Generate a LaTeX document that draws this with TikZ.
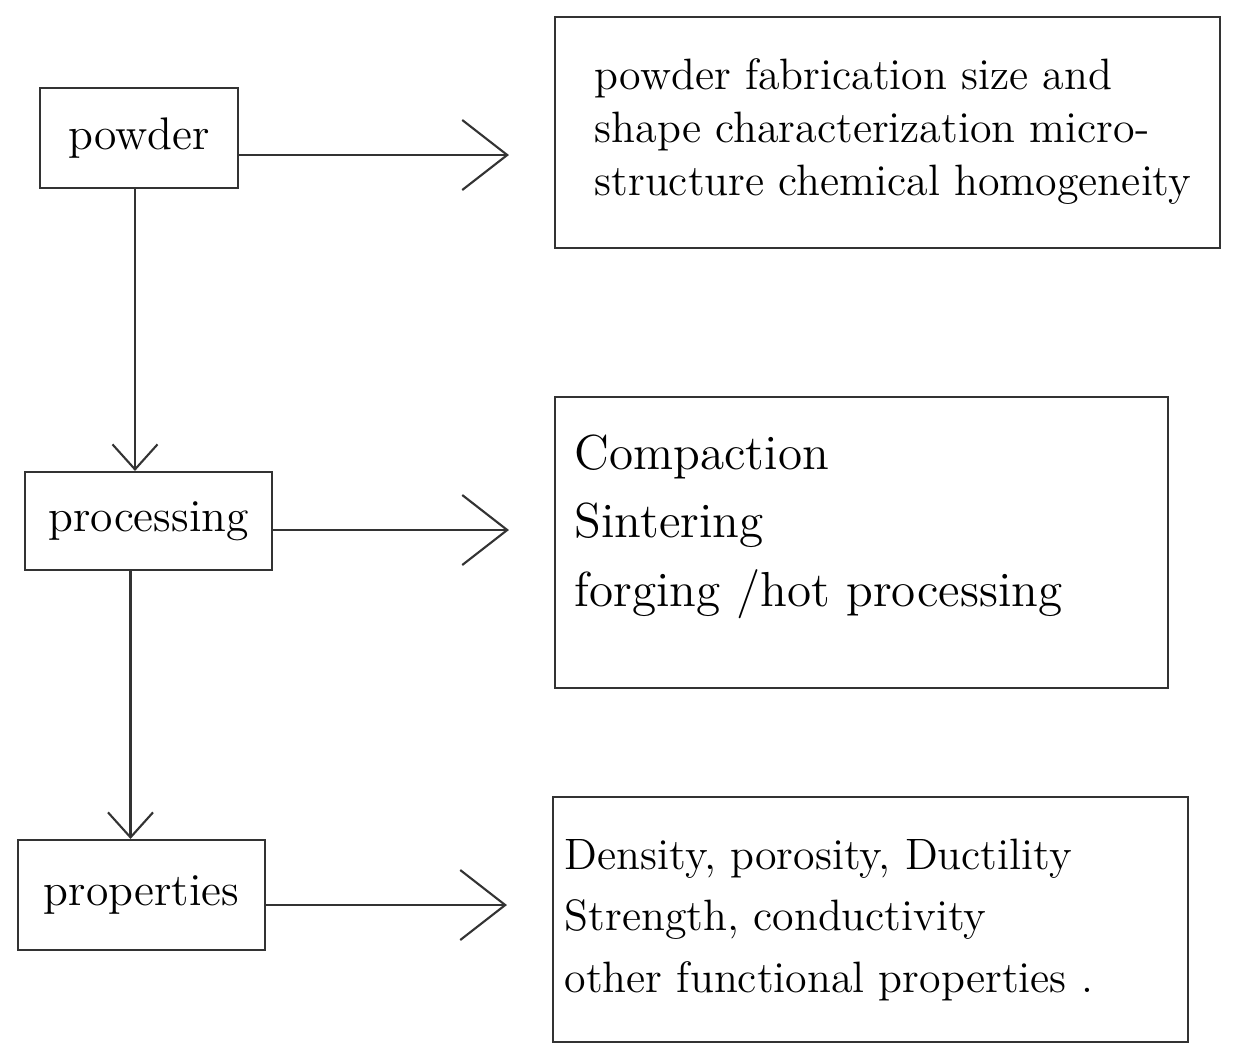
\documentclass[tikz,border=0pt]{standalone}
\usepackage{tikz}
\usetikzlibrary{positioning}
\usetikzlibrary{calc}
\usetikzlibrary{arrows.meta}

\begin{document}
\begin{tikzpicture}

% used shapes
\tikzstyle{stage} = [rectangle, draw=black!80, line width=0.6pt, font=\fontsize{13}{15}\selectfont, inner sep=0pt]
\tikzstyle{descbox} = [rectangle, draw=black!80, line width=0.6pt, inner sep=0pt]
\tikzstyle{desctext} = [align=left, anchor=north west, inner sep=0pt, font=\fontsize{12.5}{15}\selectfont]
\tikzstyle{flow} = [draw=black!80, line width=0.6pt, -{Straight Barb[length=4.5mm,width=7mm]}, shorten >=4.5mm]
\tikzstyle{down} = [draw=black!80, line width=0.6pt, -{Straight Barb[length=2.5mm,width=4.5mm]}]

\useasboundingbox (0,0) rectangle (12.39,-10.56);

% left column
\node [stage, minimum width=1.98cm, minimum height=1cm] (powder) at (1.39,-1.38) {powder};
\node [stage, minimum width=2.47cm, minimum height=0.98cm] (processing) at (1.485,-5.21) {processing};
\node [stage, minimum width=2.47cm, minimum height=1.1cm] (properties) at (1.415,-8.95) {properties};

% right column
\node [descbox, minimum width=6.65cm, minimum height=2.31cm] (powderinfo) at (8.875,-1.325) {};
\node [descbox, minimum width=6.13cm, minimum height=2.91cm] (processinfo) at (8.615,-5.425) {};
\node [descbox, minimum width=6.35cm, minimum height=2.45cm] (propertyinfo) at (8.705,-9.195) {};

\node [desctext] (powdertext) at ([shift={(0.4,-0.42)}]powderinfo.north west)
  {powder fabrication size and\\shape characterization micro-\\structure chemical homogeneity};
\node [desctext, font=\fontsize{14}{19.5}\selectfont] (processtext) at ([shift={(0.2,-0.38)}]processinfo.north west)
  {Compaction\\Sintering\\forging /hot processing};
\node [desctext, font=\fontsize{12.5}{17.5}\selectfont] (propertytext) at ([shift={(0.12,-0.42)}]propertyinfo.north west)
  {Density, porosity, Ductility\\Strength, conductivity\\other functional properties .};

% connectors
\draw [down] ([xshift=-0.04cm]powder.south) -- ([xshift=-0.04cm]powder.south |- processing.north);
\draw [down] ([xshift=-0.18cm]processing.south) -- ([xshift=-0.18cm]processing.south |- properties.north);

\draw [flow] ([yshift=-0.17cm]powder.east) -- ([yshift=-0.17cm]powder.east -| powderinfo.west);
\draw [flow] ([yshift=-0.09cm]processing.east) -- ([yshift=-0.09cm]processing.east -| processinfo.west);
\draw [flow] ([yshift=-0.1cm]properties.east) -- ([yshift=-0.1cm]properties.east -| propertyinfo.west);

\end{tikzpicture}
\end{document}
